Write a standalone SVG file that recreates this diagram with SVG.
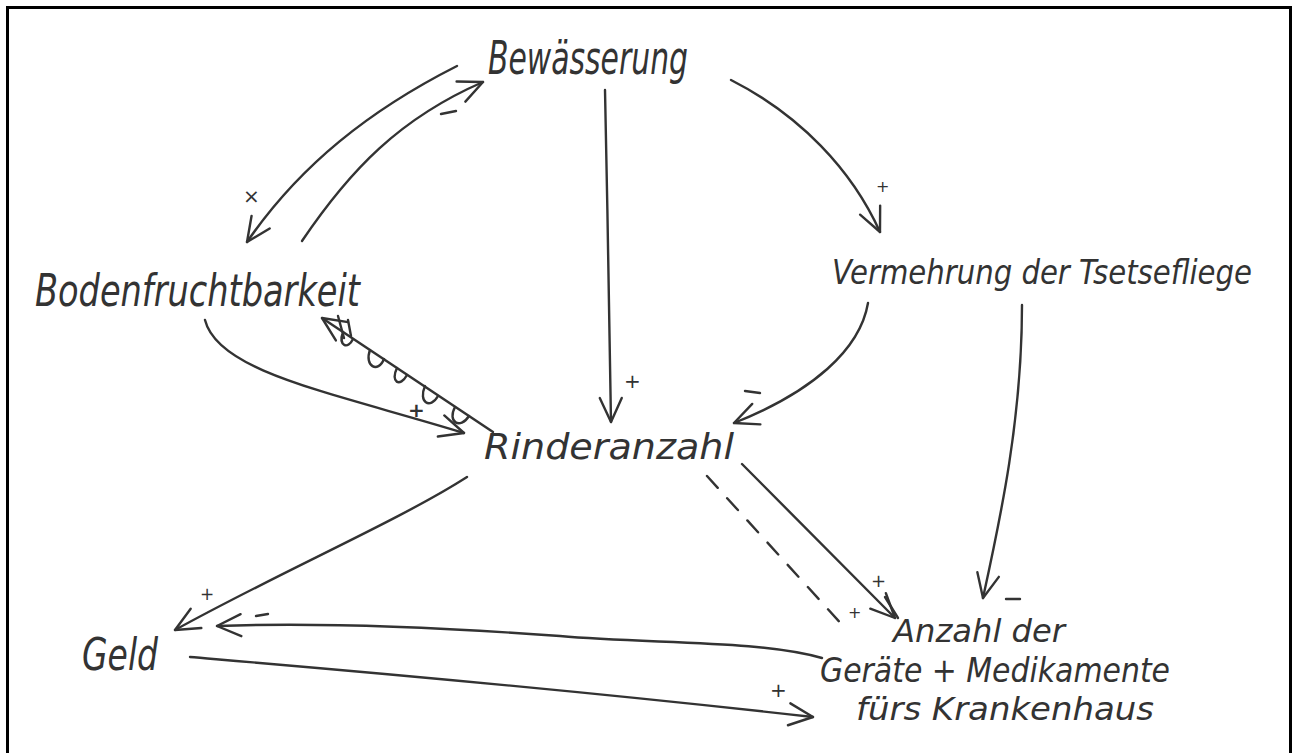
<svg xmlns="http://www.w3.org/2000/svg" width="1292" height="753" viewBox="0 0 1292 753">
  <style>
    .ink { fill: none; stroke: #333; stroke-width: 2.4; stroke-linecap: round; stroke-linejoin: round; }
    .dash { stroke-dasharray: 16 14; }
    .lbl { font-family: "DejaVu Sans", "Liberation Sans", sans-serif; font-size: 20px; fill: #333; }
    .hand { font-family: "DejaVu Sans Condensed", "Liberation Sans Narrow", "DejaVu Sans", sans-serif; font-style: italic; fill: #333; }
  </style>
  <defs>
    <marker id="head" markerUnits="userSpaceOnUse" viewBox="-26 -14 30 28" refX="0" refY="0" markerWidth="30" markerHeight="28" orient="auto">
      <path d="M -24 -11 L 0 0 L -24 11" fill="none" stroke="#333" stroke-width="2.4" stroke-linecap="round" stroke-linejoin="round"/>
    </marker>
  </defs>

  <rect width="1292" height="753" fill="#fff"/>
  <!-- frame: left, top and right edges -->
  <path d="M 7.5 753 L 7.5 7.5 L 1290.5 7.5 L 1290.5 753" fill="none" stroke="#000" stroke-width="3"/>

  <g id="connectors">
    <!-- Bewässerung -> Bodenfruchtbarkeit -->
    <path class="ink" d="M 457 66 C 370 110 300 165 247 242" marker-end="url(#head)"/>
    <text class="lbl" x="243" y="203">×</text>
    <!-- Bodenfruchtbarkeit -> Bewässerung -->
    <path class="ink" d="M 302 241 C 350 170 400 118 483 82" marker-end="url(#head)"/>
    <path class="ink" d="M 441 114 L 456 111"/>
    <!-- Bewässerung -> Rinderanzahl -->
    <path class="ink" d="M 605 90 C 607 200 610 320 611 422" marker-end="url(#head)"/>
    <text class="lbl" x="624" y="388">+</text>
    <!-- Bewässerung -> Vermehrung der Tsetsefliege -->
    <path class="ink" d="M 731 80 C 800 115 852 170 880 232" marker-end="url(#head)"/>
    <text class="lbl" x="876" y="192" style="font-size:16px">+</text>
    <!-- Vermehrung der Tsetsefliege -> Rinderanzahl -->
    <path class="ink" d="M 868 303 C 860 350 812 392 734 423" marker-end="url(#head)"/>
    <path class="ink" d="M 745 391 L 760 393"/>
    <!-- Bodenfruchtbarkeit -> Rinderanzahl -->
    <path class="ink" d="M 205 320 C 218 372 330 392 464 433" marker-end="url(#head)"/>
    <text class="lbl" x="408" y="417" style="font-weight:bold">+</text>
    <!-- crossed-out arrow Rinderanzahl -> Bodenfruchtbarkeit -->
    <path class="ink" d="M 493 432 L 322 318" marker-end="url(#head)"/>
    <path class="ink" stroke-width="1.8" d="M 469 416 C 460 430 447 422 455 407 M 438 396 C 430 410 418 402 425 386 M 407 375 C 400 388 390 382 397 368 M 384 359 C 378 374 364 366 370 350 M 353 339 C 348 350 338 346 343 332 M 338 316 L 344 338 M 348 320 L 351 336"/>
    <!-- Rinderanzahl -> Geld -->
    <path class="ink" d="M 467 477 C 400 520 280 572 175 630" marker-end="url(#head)"/>
    <text class="lbl" x="200" y="600" style="font-size:17px">+</text>
    <!-- Rinderanzahl -> Anzahl der Geräte (solid) -->
    <path class="ink" d="M 742 464 L 895 618" marker-end="url(#head)"/>
    <path class="ink" d="M 885 597 L 898 618"/>
    <text class="lbl" x="871" y="587" style="font-size:18px">+</text>
    <!-- Rinderanzahl -> Anzahl der Geräte (dashed) -->
    <path class="ink dash" d="M 707 476 L 845 628"/>
    <text class="lbl" x="848" y="618" style="font-size:16px">+</text>
    <!-- Vermehrung der Tsetsefliege -> Anzahl der Geräte -->
    <path class="ink" d="M 1022 305 C 1022 420 1000 520 983 598" marker-end="url(#head)"/>
    <path class="ink" d="M 1006 599 L 1020 599"/>
    <!-- Anzahl der Geräte -> Geld -->
    <path class="ink" d="M 822 658 C 760 640 650 644 560 636 C 450 628 330 622 217 626" marker-end="url(#head)"/>
    <path class="ink" d="M 256 616 L 268 614"/>
    <!-- Geld -> Anzahl der Geräte -->
    <path class="ink" d="M 190 657 C 260 663 520 684 813 717" marker-end="url(#head)"/>
    <text class="lbl" x="770" y="697">+</text>
  </g>

  <g id="node-bewaesserung">
    <text class="hand" x="488" y="74" font-size="46" textLength="200" lengthAdjust="spacingAndGlyphs">Bewässerung</text>
  </g>
  <g id="node-bodenfruchtbarkeit">
    <text class="hand" x="35" y="306" font-size="44" textLength="325" lengthAdjust="spacingAndGlyphs">Bodenfruchtbarkeit</text>
  </g>
  <g id="node-vermehrung">
    <text class="hand" x="832" y="284" font-size="33" textLength="420" lengthAdjust="spacingAndGlyphs">Vermehrung der Tsetsefliege</text>
  </g>
  <g id="node-rinderanzahl">
    <text class="hand" x="484" y="459" font-size="36" textLength="250" lengthAdjust="spacingAndGlyphs">Rinderanzahl</text>
  </g>
  <g id="node-geld">
    <text class="hand" x="82" y="670" font-size="44" textLength="76" lengthAdjust="spacingAndGlyphs">Geld</text>
  </g>
  <g id="node-anzahl">
    <text class="hand" x="893" y="642" font-size="32" textLength="172" lengthAdjust="spacingAndGlyphs">Anzahl der</text>
    <text class="hand" x="820" y="682" font-size="34" textLength="350" lengthAdjust="spacingAndGlyphs">Geräte + Medikamente</text>
    <text class="hand" x="856" y="720" font-size="32" textLength="298" lengthAdjust="spacingAndGlyphs">fürs Krankenhaus</text>
  </g>
</svg>
